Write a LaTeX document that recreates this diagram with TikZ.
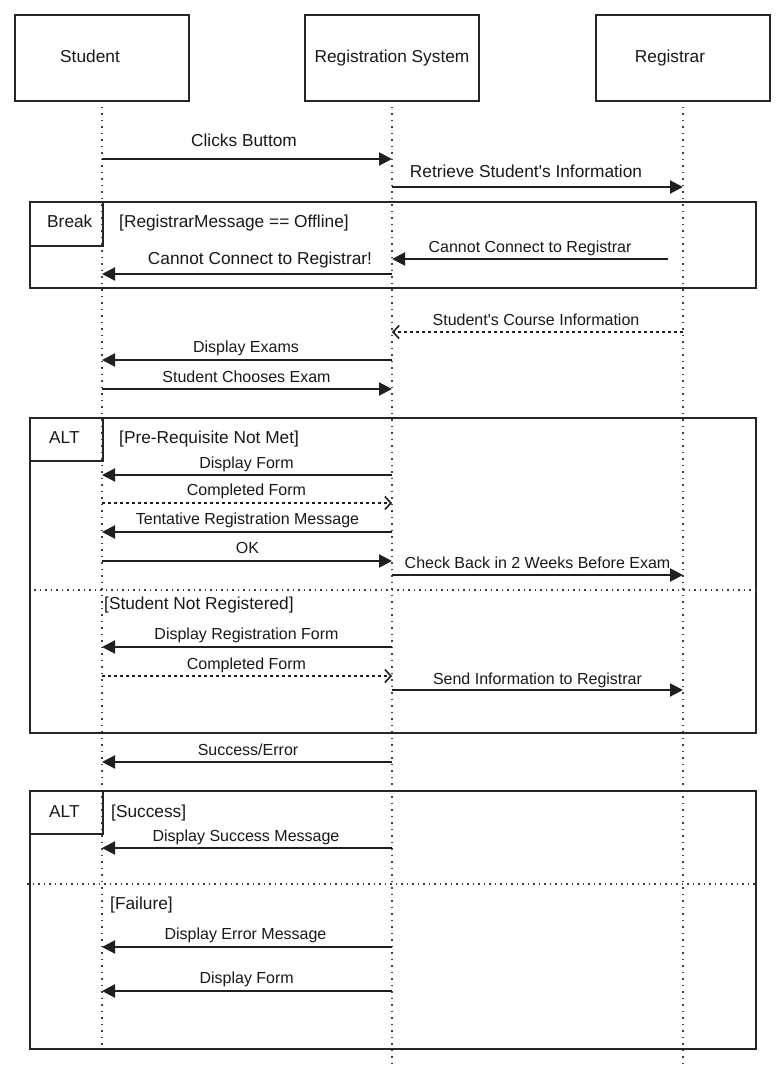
\documentclass[tikz,border=0pt]{standalone}
\usepackage{fontspec}
\setmainfont{Liberation Sans}
\usetikzlibrary{arrows.meta}
\begin{document}
\begin{tikzpicture}[x=1pt,y=-1pt,
  actor/.style={draw=black!85, line width=2.2pt, minimum width=174pt, minimum height=86pt, inner sep=0pt},
  big/.style={font=\fontsize{17.3}{20}\selectfont, text=black!90, inner sep=0pt, anchor=base},
  small/.style={font=\fontsize{16}{19}\selectfont, text=black!90, inner sep=0pt, anchor=base},
  lbl/.style={font=\fontsize{17.3}{20}\selectfont, text=black!90, inner sep=0pt, anchor=base west},
  life/.style={draw=black!75, line width=1.5pt, dash pattern=on 1.5pt off 5pt},
  msg/.style={draw=black!88, line width=2pt, -{Triangle[length=13pt,width=13pt]}},
  reply/.style={draw=black!88, line width=1.8pt, dash pattern=on 3pt off 3pt, -{Straight Barb[length=6pt,width=13pt,line width=1.6pt]}},
  frame/.style={draw=black!85, line width=2pt},
  sep/.style={draw=black!75, line width=1.5pt, dash pattern=on 1.5pt off 4pt},
]
\useasboundingbox[fill=white] (0,0) rectangle (779,1067);

% actors
\node[actor] (S)  at (102,58) {};
\node[actor] (RS) at (392,58) {};
\node[actor] (R)  at (683,58) {};
\node[big] (Sl)  at (90,63)  {Student};
\node[big] (RSl) at (392,63) {Registration System};
\node[big] (Rl)  at (670,63) {Registrar};

% lifelines
\coordinate (Send)  at (102,1048);
\coordinate (RSend) at (392,1063);
\coordinate (Rend)  at (683,1063);
\draw[life] (S.south |- 0,107) -- (Send);
\draw[life] (RS.south |- 0,107) -- (RSend);
\draw[life] (R.south |- 0,107) -- (Rend);

% frames
\draw[frame] (30,202) rectangle (756,288);
\draw[frame] (30,246) -- (102.5,246) -- (102.5,202);
\draw[frame] (30,418) rectangle (756,733);
\draw[frame] (30,461) -- (102.5,461) -- (102.5,418);
\draw[sep] (34,590) -- (756,590);
\draw[frame] (30,791) rectangle (756,1049);
\draw[frame] (30,834) -- (102.5,834) -- (102.5,791);
\draw[sep] (27,884) -- (756,884);

\node[lbl] (brk) at (47,228) {Break};
\node[lbl] (g1) at (119,228) {[RegistrarMessage == Offline]};
\node[lbl] (alt1) at (49,443) {ALT};
\node[lbl] (g2) at (119,443) {[Pre-Requisite Not Met]};
\node[lbl] (g3) at (104,609) {[Student Not Registered]};
\node[lbl] (alt2) at (49,817) {ALT};
\node[lbl] (g4) at (111,817) {[Success]};
\node[lbl] (g5) at (110,909) {[Failure]};

% messages
\draw[msg] (S |- 0,159) -- (RS |- 0,159);
\node[big] (m1) at (244,147) {Clicks Buttom};
\draw[msg] (RS |- 0,187) -- (R |- 0,187);
\node[big] (m2) at (526,178) {Retrieve Student\textquotesingle s Information};
\coordinate (cc) at (668,259);
\draw[msg] (cc) -- (RS |- cc);
\node[small] (m3) at (530,252) {Cannot Connect to Registrar};
\draw[msg] (RS |- 0,274) -- (S |- 0,274);
\node[big] (m4) at (260,264) {Cannot Connect to Registrar!};
\draw[reply] (R |- 0,332) -- (RS |- 0,332);
\node[small] (m5) at (536,325) {Student\textquotesingle s Course Information};
\draw[msg] (RS |- 0,360) -- (S |- 0,360);
\node[small] (m6) at (246,352.5) {Display Exams};
\draw[msg] (S |- 0,389) -- (RS |- 0,389);
\node[small] (m7) at (246.5,382) {Student Chooses Exam};

\draw[msg] (RS |- 0,475) -- (S |- 0,475);
\node[small] (m8) at (246.5,468) {Display Form};
\draw[reply] (S |- 0,503) -- (RS |- 0,503);
\node[small] (m9) at (246.5,495.5) {Completed Form};
\draw[msg] (RS |- 0,532) -- (S |- 0,532);
\node[small] (m10) at (247.5,524.5) {Tentative Registration Message};
\draw[msg] (S |- 0,561) -- (RS |- 0,561);
\node[small] (m11) at (247.5,553) {OK};
\draw[msg] (RS |- 0,575) -- (R |- 0,575);
\node[small] (m12) at (537.5,568) {Check Back in 2 Weeks Before Exam};

\draw[msg] (RS |- 0,647) -- (S |- 0,647);
\node[small] (m13) at (246.5,639) {Display Registration Form};
\draw[reply] (S |- 0,676) -- (RS |- 0,676);
\node[small] (m14) at (246.5,669) {Completed Form};
\draw[msg] (RS |- 0,690) -- (R |- 0,690);
\node[small] (m15) at (537.5,684) {Send Information to Registrar};

\draw[msg] (RS |- 0,762) -- (S |- 0,762);
\node[small] (m16) at (248,755) {Success/Error};

\draw[msg] (RS |- 0,848) -- (S |- 0,848);
\node[small] (m17) at (246,841) {Display Success Message};
\draw[msg] (RS |- 0,947) -- (S |- 0,947);
\node[small] (m18) at (245.5,939) {Display Error Message};
\draw[msg, line width=2.6pt] (RS |- 0,991) -- (S |- 0,991);
\node[small] (m19) at (246.7,983) {Display Form};
\end{tikzpicture}
\end{document}
